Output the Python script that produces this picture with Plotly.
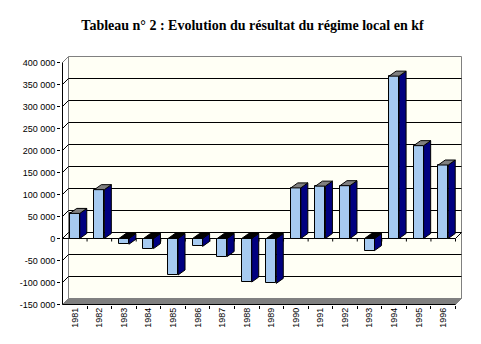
import plotly.graph_objects as go

# ---- data ----
years = ["1981", "1982", "1983", "1984", "1985", "1986", "1987", "1988",
         "1989", "1990", "1991", "1992", "1993", "1994", "1995", "1996"]
values = [57000, 111000, -13000, -23000, -83000, -18000, -41000, -99000,
          -102000, 115000, 119000, 120000, -27500, 369000, 211000, 167000]
y_ticks = [-150000, -100000, -50000, 0, 50000, 100000, 150000, 200000,
           250000, 300000, 350000, 400000]
y_labels = [f"{v:,}".replace(",", " ") for v in y_ticks]
title = "Tableau n° 2 : Evolution du résultat du régime local en kf"

# ---- geometry (pixel based conversion helpers) ----
W, H = 481, 344
ML, MR, MT, MB = 61, 17, 55, 39
plot_w = W - ML - MR
plot_h = H - MT - MB
n = len(years)
PXC = 393 / n                 # px per category
PXV = 44 / 100000             # px per value unit
YMIN_V, YMAX_V = y_ticks[0], y_ticks[-1]
xmin = -0.5 - 1.5 / PXC
xmax = xmin + plot_w / PXC
ymin = YMIN_V - 0.5 / PXV
ymax = ymin + plot_h / PXV

WX, WY = 6 / PXC, 6 / PXV       # back wall depth offset
BDX, BDY = 7 / PXC, 5 / PXV     # bar depth offset
BW = 10 / PXC                   # bar front width
XL, XR = -0.5, n - 0.5

WALL = "#FFFFF5"
GRAY = "#808080"
FRONT = "#A6CAF0"
SIDE = "#000080"

shapes = []
# back wall
shapes.append(dict(type="rect", xref="x", yref="y", layer="below",
                   x0=XL + WX, x1=XR + WX, y0=YMIN_V + WY, y1=YMAX_V + WY,
                   fillcolor=WALL, line=dict(color=GRAY, width=1)))
# floor
shapes.append(dict(type="path", xref="x", yref="y", layer="below",
                   path=f"M {XL},{YMIN_V} L {XR},{YMIN_V} L {XR+WX},{YMIN_V+WY} L {XL+WX},{YMIN_V+WY} Z",
                   fillcolor=GRAY, line=dict(color=GRAY, width=1)))
# gridlines with left-wall diagonals
for v in y_ticks[1:-1]:
    shapes.append(dict(type="path", xref="x", yref="y", layer="below",
                       path=f"M {XL},{v} L {XL+WX},{v+WY} L {XR+WX},{v+WY}",
                       line=dict(color="black", width=1)))
# top-left diagonal (wall edge)
shapes.append(dict(type="line", xref="x", yref="y", layer="below",
                   x0=XL, y0=YMAX_V, x1=XL + WX, y1=YMAX_V + WY,
                   line=dict(color=GRAY, width=1)))
# front value axis line
shapes.append(dict(type="line", xref="x", yref="y", layer="below",
                   x0=XL, y0=YMIN_V, x1=XL, y1=YMAX_V,
                   line=dict(color="black", width=1)))
# front floor edge
shapes.append(dict(type="line", xref="x", yref="y", layer="below",
                   x0=XL, y0=YMIN_V, x1=XR, y1=YMIN_V,
                   line=dict(color="black", width=1)))
# zero plane front line + right diagonal
shapes.append(dict(type="path", xref="x", yref="y", layer="below",
                   path=f"M {XL},0 L {XR},0 L {XR+WX},{WY}",
                   line=dict(color="black", width=1)))
# ticks under zero line at category boundaries
for k in range(1, n + 1):
    b = k - 0.5
    shapes.append(dict(type="line", xref="x", yref="y", layer="below",
                       x0=b, y0=0, x1=b, y1=-3 / PXV,
                       line=dict(color="black", width=1)))

fig = go.Figure()

# front faces
fig.add_trace(go.Bar(x=list(range(n)), y=values, width=BW,
                     marker=dict(color=FRONT, line=dict(color="black", width=1)),
                     hoverinfo="skip", showlegend=False))

# side faces
sx, sy = [], []
for i, v in enumerate(values):
    x1 = i + BW / 2
    sx += [x1, x1 + BDX, x1 + BDX, x1, x1, None]
    sy += [0, BDY, v + BDY, v, 0, None]
fig.add_trace(go.Scatter(x=sx, y=sy, mode="lines", fill="toself",
                         fillcolor=SIDE, line=dict(color="black", width=1),
                         hoverinfo="skip", showlegend=False))

# top faces
for sign, col in ((1, GRAY), (-1, "black")):
    tx, ty = [], []
    for i, v in enumerate(values):
        if (v >= 0) != (sign > 0):
            continue
        x0, x1 = i - BW / 2, i + BW / 2
        t = max(v, 0)
        tx += [x0, x0 + BDX, x1 + BDX, x1, x0, None]
        ty += [t, t + BDY, t + BDY, t, t, None]
    fig.add_trace(go.Scatter(x=tx, y=ty, mode="lines", fill="toself",
                             fillcolor=col, line=dict(color="black", width=1),
                             hoverinfo="skip", showlegend=False))

fig.update_layout(
    width=W, height=H,
    margin=dict(l=ML, r=MR, t=MT, b=MB, pad=0),
    paper_bgcolor="white", plot_bgcolor="white",
    shapes=shapes,
    bargap=0,
    title=dict(text=title, x=252.5 / W, xanchor="center",
               y=1 - 25 / H, yanchor="middle", yref="container",
               font=dict(family="Liberation Serif, Times New Roman, serif", size=14,
                         color="black", weight="bold")),
    xaxis=dict(range=[xmin, xmax], showgrid=False, zeroline=False, showline=False,
               tickmode="array", tickvals=list(range(n)), ticktext=years,
               tickangle=-90, ticks="", ticklen=0,
               tickfont=dict(family="Liberation Sans", size=9, color="black"),
               minor=dict(tickmode="array", tickvals=[k - 0.5 for k in range(1, n + 1)],
                          ticks="outside", ticklen=3, tickcolor="black", tickwidth=1,
                          showgrid=False)),
    yaxis=dict(range=[ymin, ymax], showgrid=False, zeroline=False, showline=False,
               tickmode="array", tickvals=y_ticks, ticktext=y_labels,
               ticks="outside", ticklen=3, tickcolor="black", tickwidth=1,
               tickfont=dict(family="Liberation Sans", size=9, color="black")),
)

fig.write_html("out.html")
